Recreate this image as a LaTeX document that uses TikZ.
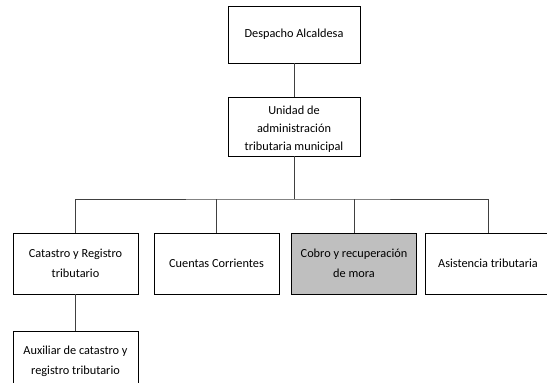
\documentclass[tikz,border=0pt]{standalone}
\usepackage{fontspec}
\setmainfont{Carlito}
\begin{document}
\begin{tikzpicture}[x=1pt,y=-1pt,
  txtfont/.style={font=\fontsize{12.3}{19.5}\selectfont},
  box/.style={draw=black,line width=0.8pt,fill=white,inner sep=0pt,
    minimum width=#1,align=center,txtfont},
  box/.default=125,
  txt/.style={inner sep=0pt,align=center,txtfont},
  link/.style={draw=black!75,line width=0.8pt}]
\useasboundingbox (0,0) rectangle (547,383);
% boxes
\node[box=132,minimum height=57] (desp) at (294,34.5) {Despacho Alcaldesa};
\node[box=132,minimum height=59] (unidad) at (294,126.5) {};
\node[txt,font=\fontsize{12.3}{18}\selectfont] (unidadtxt) at (294,129) {Unidad de\\administración\\tributaria municipal};
\node[box,minimum height=61] (catastro) at (75.5,263.5) {Catastro y Registro\\tributario};
\node[box,minimum height=61] (cuentas) at (216.5,263.5) {Cuentas Corrientes};
\node[box,minimum height=61,fill=black!25] (cobro) at (354,263.5) {Cobro y recuperación\\de mora};
\node[box,minimum height=61] (asist) at (488,263.5) {Asistencia tributaria};
\node[box,minimum height=61] (aux) at (75.5,361.5) {Auxiliar de catastro y\\registro tributario};
% connectors
\coordinate (bus) at (294,199);
\draw[link] (desp) -- (unidad);
\draw[link] (unidad) -- (bus);
\draw[link] (catastro.north) |- (bus) -| (asist.north);
\draw[link] (cuentas.north) -- (cuentas.north |- bus);
\draw[link] (cobro.north) -- (cobro.north |- bus);
\draw[link] (catastro) -- (aux);
\end{tikzpicture}
\end{document}
